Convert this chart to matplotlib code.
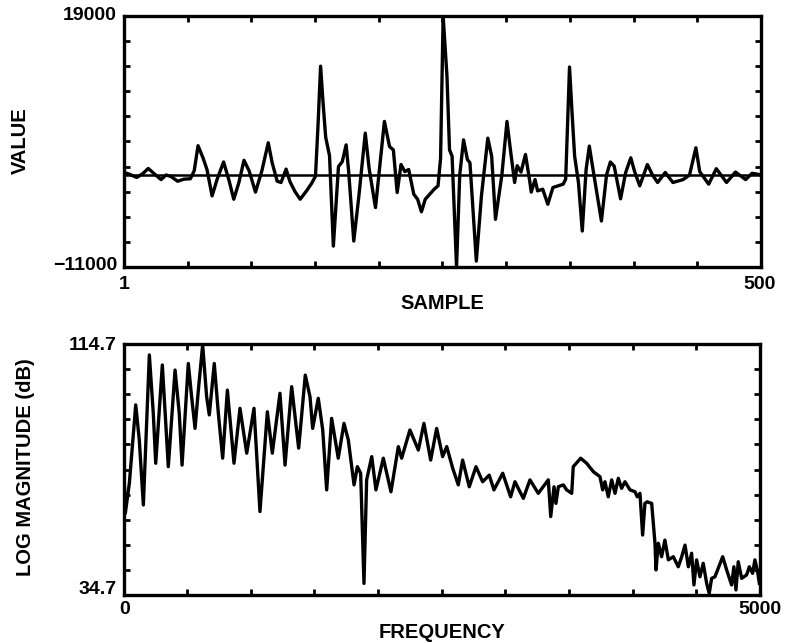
import matplotlib
matplotlib.use("Agg")
import matplotlib.pyplot as plt
import numpy as np

plt.rcParams['font.family'] = ['Liberation Sans', 'DejaVu Sans']
plt.rcParams['font.weight'] = 'bold'

# ---------------- data: time signal ----------------
sample_idx = [1, 5, 11, 16, 20, 25, 30, 34, 38, 43, 48, 53, 56, 59, 63, 66, 70, 74, 79, 83,
              87, 91, 95, 99, 104, 109, 114, 117, 121, 124, 128, 131, 135, 139, 144, 148, 151,
              153, 155, 157, 159, 162, 165, 169, 172, 175, 177, 181, 185, 190, 193, 198, 205,
              209, 212, 215, 218, 221, 224, 228, 231, 234, 237, 244, 247, 249, 251, 254, 256,
              258, 261.5, 264, 267, 270, 272, 277, 281, 286, 289, 292, 297, 301, 304, 307, 309,
              312, 315.5, 319, 320, 323, 325, 329, 333, 337, 345, 347, 350, 352, 354, 357, 360,
              363, 365.5, 368, 375, 379, 382, 385, 390, 394, 398, 401, 405, 411, 415, 419, 425,
              431, 439, 444, 449, 452, 459, 465, 473, 480, 488, 493, 497, 500]
sample_val = [300, 100, -300, 200, 780, 100, -550, 0, -200, -750, -500, -450, 500, 3500, 2000,
              650, -2500, -500, 1550, -500, -2900, -900, 1750, 500, -2050, 500, 3850, 1500, -750,
              -900, 700, -800, -2000, -2900, -1900, -1000, -150, 6000, 13000, 8500, 4500, 2300,
              -8500, 1000, 1600, 3600, 400, -7900, -2500, 5000, 800, -3900, 6400, 3400, 3000,
              -2100, 1250, 400, 650, -2300, -2900, -4400, -2900, -1700, -1300, 2000, 19000, 11800,
              3000, 2250, -11000, 0, 4200, 1850, 1450, -10300, -2500, 4400, 2250, -5300, 0, 6400,
              2650, -900, 1100, 350, 2450, -900, -2050, -550, -1900, -1700, -3500, -1500, -1100,
              -500, 12900, 7400, 2250, -900, -6700, 650, 3450, 1050, -5500, 0, 1550, 1050, -2850,
              300, 2050, 400, -1300, 1250, 0, -900, 300, -900, -550, 0, 3250, 400, -1100, 750,
              -900, 350, -550, 200, 100, 0]
value_range = [-11000, 19000]
sample_range = [1, 500]

# ---------------- data: spectrum ----------------
freq_hz = [4, 14, 46, 96, 124, 156, 203, 234, 253, 305, 352, 405, 438, 460, 509, 535, 562, 588,
           622, 653, 674, 713, 745, 779, 816, 868, 915, 968, 1025, 1072, 1130, 1169, 1229, 1269,
           1321, 1376, 1428, 1465, 1486, 1530, 1565, 1596, 1635, 1687, 1732, 1766, 1811, 1837,
           1863, 1889, 1910, 1950, 1983, 2041, 2101, 2159, 2185, 2250, 2316, 2360, 2413, 2460,
           2507, 2539, 2586, 2630, 2664, 2716, 2769, 2821, 2873, 2910, 2979, 3041, 3075, 3141,
           3193, 3258, 3337, 3356, 3382, 3397, 3416, 3455, 3481, 3521, 3533, 3591, 3638, 3691,
           3743, 3764, 3782, 3808, 3835, 3861, 3887, 3913, 3939, 3979, 4018, 4036, 4057, 4078,
           4096, 4114, 4149, 4175, 4183, 4201, 4227, 4253, 4280, 4319, 4358, 4385, 4411, 4437,
           4463, 4481, 4502, 4528, 4554, 4581, 4601, 4620, 4646, 4707, 4738, 4777, 4795, 4811,
           4829, 4856, 4895, 4916, 4942, 4960, 4979, 4995]
mag_db = [73.5, 60.7, 70.3, 95.3, 84.1, 63.4, 111.2, 92.6, 76.7, 108.0, 75.6, 106.4, 92.6, 76.1,
          108.5, 97.9, 87.8, 100.0, 114.4, 97.9, 92.1, 108.5, 92.6, 78.3, 100.0, 76.7, 94.2, 79.9,
          94.2, 61.3, 93.1, 79.9, 99.0, 76.1, 101.1, 81.5, 104.8, 97.9, 87.8, 97.4, 87.3, 68.2,
          91.0, 78.3, 89.4, 84.1, 69.8, 75.6, 73.5, 38.4, 71.4, 78.8, 68.2, 78.3, 67.6, 82.0,
          78.3, 87.3, 80.9, 89.4, 77.7, 87.8, 78.8, 82.0, 75.1, 69.8, 77.7, 69.2, 75.6, 70.8,
          72.9, 68.2, 73.5, 66.0, 70.8, 65.5, 71.4, 67.1, 71.4, 59.7, 69.2, 63.9, 69.2, 69.8,
          68.2, 67.1, 75.6, 78.3, 76.7, 74.0, 72.4, 68.2, 70.8, 66.0, 71.4, 67.1, 71.9, 68.7,
          70.8, 68.2, 67.6, 66.0, 67.1, 53.8, 63.9, 64.4, 63.9, 51.2, 42.7, 51.2, 46.9, 52.2,
          45.9, 46.9, 43.7, 46.9, 50.6, 43.7, 48.0, 37.9, 45.9, 40.5, 44.8, 38.4, 35.2, 40.0,
          40.5, 46.9, 42.7, 37.9, 43.7, 36.3, 45.3, 40.0, 41.1, 43.7, 41.6, 45.9, 42.7, 38.4]
db_range = [34.7, 114.7]
freq_range = [0, 5000]

W, H = 787, 643
fig = plt.figure(figsize=(W / 100, H / 100), dpi=100)


def px_axes(l, t, r, b):
    return fig.add_axes([l / W, 1 - b / H, (r - l) / W, (b - t) / H])


def ftext(x, y, s, **kw):
    fig.text(x / W, 1 - y / H, s, fontweight='bold', **kw)


def style(ax):
    for sp in ax.spines.values():
        sp.set_linewidth(2.4)
    ax.tick_params(which='major', direction='in', length=4, width=2.0,
                   top=True, right=True, labelbottom=False, labelleft=False)


# Top panel
ax1 = px_axes(124, 16, 761, 267)
ax1.plot(sample_idx, sample_val, color='black', lw=2.4, solid_joinstyle='round')
ax1.axhline(0, color='black', lw=1.8)
ax1.set_xlim(*sample_range)
ax1.set_ylim(*value_range)
ax1.set_xticks(np.linspace(sample_range[0], sample_range[1], 11))
ax1.set_yticks(np.linspace(value_range[0], value_range[1], 11))
style(ax1)

tick_fs = 14
lab_fs = 14.5
ftext(117, 16, f"{value_range[1]}", ha='right', va='center', fontsize=tick_fs)
ftext(117, 266, f"\u2212{abs(value_range[0])}", ha='right', va='center', fontsize=tick_fs)
ftext(124, 285, f"{sample_range[0]}", ha='center', va='center', fontsize=tick_fs)
ftext(760, 284, f"{sample_range[1]}", ha='center', va='center', fontsize=tick_fs)
ftext(442, 304, "SAMPLE", ha='center', va='center', fontsize=lab_fs)
ftext(20, 141, "VALUE", ha='center', va='center', rotation=90, fontsize=lab_fs)

# Bottom panel
ax2 = px_axes(123.5, 344, 760, 595)
ax2.plot(freq_hz, mag_db, color='black', lw=2.4, solid_joinstyle='round')
ax2.set_xlim(*freq_range)
ax2.set_ylim(*db_range)
ax2.set_xticks(np.linspace(freq_range[0], freq_range[1], 11))
ax2.set_yticks(np.linspace(db_range[0], db_range[1], 11))
style(ax2)

ftext(117, 345, f"{db_range[1]}", ha='right', va='center', fontsize=tick_fs)
ftext(117, 590, f"{db_range[0]}", ha='right', va='center', fontsize=tick_fs)
ftext(125, 609, f"{freq_range[0]}", ha='center', va='center', fontsize=tick_fs)
ftext(760, 609, f"{freq_range[1]}", ha='center', va='center', fontsize=tick_fs)
ftext(442, 632, "FREQUENCY", ha='center', va='center', fontsize=lab_fs)
ftext(26, 467, "LOG MAGNITUDE (dB)", ha='center', va='center', rotation=90, fontsize=lab_fs)

fig.savefig("out.png", dpi=100)
